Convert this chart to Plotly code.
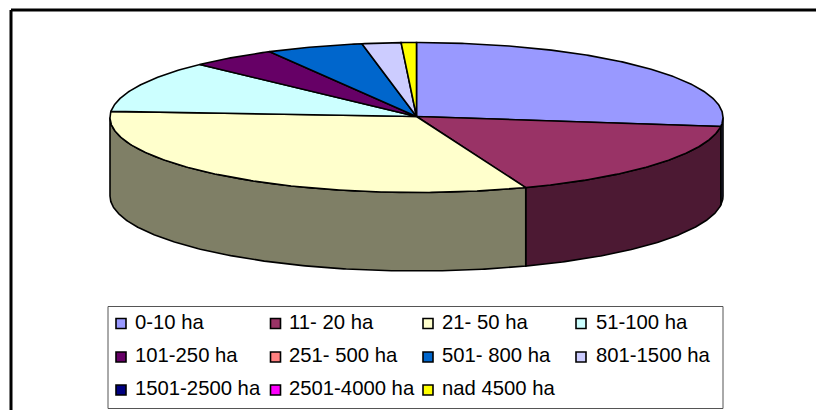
import math
import plotly.graph_objects as go

# Data
categories = ["0-10 ha", "11- 20 ha", "21- 50 ha", "51-100 ha", "101-250 ha", "251- 500 ha",
              "501- 800 ha", "801-1500 ha", "1501-2500 ha", "2501-4000 ha", "nad 4500 ha"]
values = [26.9, 17.3, 32.1, 11.2, 4.55, 0, 5.1, 2.05, 0, 0, 0.8]

# Styling
top_colors = ["#9999FF", "#993366", "#FFFFCC", "#CCFFFF", "#660066", "#FF8080",
              "#0066CC", "#CCCCFF", "#000080", "#FF00FF", "#FFFF00"]

W, H = 816, 410
CX, CY, RX, RY, DEPTH = 416.5, 117.5, 306.5, 75.0, 78.5
APEX_Y = 116.5


def darken(c):
    r, g, b = int(c[1:3], 16), int(c[3:5], 16), int(c[5:7], 16)
    return f"rgb({r // 2},{g // 2},{b // 2})"


def pt(t, dy=0.0):
    a = math.radians(t)
    return CX + RX * math.sin(a), CY - RY * math.cos(a) + dy


def arc(a, b, dy=0.0):
    n = max(2, int(abs(b - a) * 2))
    return [pt(a + (b - a) * i / n, dy) for i in range(n + 1)]


total = sum(values)
bounds = []
acc = 0.0
for v in values:
    start = acc
    acc += v / total * 360.0
    bounds.append((start, acc))

fig = go.Figure()
LINE = dict(color="black", width=1.6)


def poly(pts, color, name):
    fig.add_trace(go.Scatter(x=[p[0] for p in pts] + [pts[0][0]], y=[p[1] for p in pts] + [pts[0][1]],
                             mode="lines", fill="toself", fillcolor=color, line=LINE,
                             name=name, hoverinfo="name", showlegend=False))


# Rim: only the front half of the disc is visible
for name, col, (a, b) in zip(categories, top_colors, bounds):
    lo, hi = max(a, 90.0), min(b, 270.0)
    if hi > lo:
        poly(arc(lo, hi) + arc(hi, lo, DEPTH), darken(col), name)

# Top face
for name, col, v, (a, b) in zip(categories, top_colors, values, bounds):
    if v > 0:
        poly([(CX, APEX_Y)] + arc(a, b), col, name)

# Legend block
legend_x = [121, 275.5, 428, 581]
legend_text_x = [134, 288, 441, 595]
legend_y = [323.5, 357, 390]
for i, (name, col) in enumerate(zip(categories, top_colors)):
    r, c = divmod(i, 4)
    fig.add_trace(go.Scatter(x=[legend_x[c]], y=[legend_y[r]], mode="markers", name=name,
                             marker=dict(symbol="square", size=10, color=col,
                                         line=dict(color="black", width=1.6)),
                             hoverinfo="name", showlegend=False))
    fig.add_annotation(x=legend_text_x[c], y=legend_y[r] - 2, text=name, showarrow=False,
                       xanchor="left", yanchor="middle", xshift=-1,
                       font=dict(family="Liberation Sans", size=20.3, color="black"))

fig.update_layout(
    width=W, height=H, margin=dict(l=0, r=0, t=0, b=0), autosize=False,
    paper_bgcolor="white", plot_bgcolor="white", showlegend=False,
    xaxis=dict(range=[0, W], visible=False, fixedrange=True),
    yaxis=dict(range=[H, 0], visible=False, fixedrange=True),
    shapes=[
        dict(type="line", xref="x", yref="y", x0=11, x1=W, y0=10, y1=10, line=dict(color="black", width=3)),
        dict(type="line", xref="x", yref="y", x0=11, x1=11, y0=10, y1=H, line=dict(color="black", width=3)),
        dict(type="rect", xref="x", yref="y", x0=108, x1=723, y0=306.5, y1=408.5,
             line=dict(color="#555555", width=1)),
    ],
)
fig.write_html("out.html", config={"displayModeBar": False},
               post_script="document.body.style.margin='0';document.documentElement.style.overflow='hidden';")
